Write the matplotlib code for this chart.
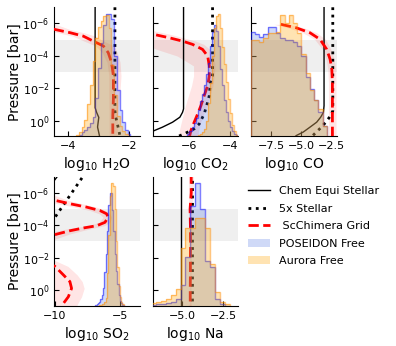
import numpy as np
import matplotlib
matplotlib.use('Agg')
import matplotlib.pyplot as plt
from matplotlib.lines import Line2D
from matplotlib.patches import Patch
from matplotlib.ticker import NullLocator

# ---------------- data ----------------
species = ['H2O', 'CO2', 'CO', 'SO2', 'Na']
xlabels = [r'$\log_{10}\,\mathrm{H_2O}$', r'$\log_{10}\,\mathrm{CO_2}$', r'$\log_{10}\,\mathrm{CO}$',
           r'$\log_{10}\,\mathrm{SO_2}$', r'$\log_{10}\,\mathrm{Na}$']
xlims = [(-4.46, -1.65), (-7.80, -3.61), (-9.14, -2.08), (-10.05, -3.46), (-6.79, -1.59)]
xticks = [[-4, -2], [-6, -4], [-7.5, -5.0, -2.5], [-10, -5], [-5.0, -2.5]]

# chemical equilibrium (stellar) profiles: log10 P, log10 X
chem_H2O_logP = [-7, -0.8, -0.5, -0.2, 0.1, 0.4, 1.0]
chem_H2O_x = [-3.12, -3.12, -3.07, -3.0, -3.02, -3.04, -2.97]
chem_CO2_logP = [-7, -0.72, -0.51, -0.21, 0.1, 0.41, 0.62, 1.0]
chem_CO2_x = [-6.29, -6.29, -6.34, -6.47, -6.83, -7.33, -7.73, -8.4]
chem_CO_logP = [-7, -0.92, -0.51, -0.21, 0.10, 0.41, 0.71, 0.92, 1.1]
chem_CO_x = [-3.14, -3.14, -3.19, -3.42, -3.75, -4.31, -4.86, -5.42, -5.7]
chem_SO2_logP = [-7.3, -6.6]
chem_SO2_x = [-9.55, -10.2]
chem_Na_logP = [-7.2, 1.2]
chem_Na_x = [-5.1, -5.1]

# 5x stellar profiles
x5_H2O_logP = [-7, -0.6, -0.2, 0.2, 0.6, 1.0]
x5_H2O_x = [-2.47, -2.47, -2.44, -2.39, -2.34, -2.30]
x5_CO2_logP = [-7, -2.8, -2.36, -1.54, -0.92, -0.41, 0.2, 0.51, 0.82, 1.0]
x5_CO2_x = [-4.87, -4.87, -4.98, -5.03, -5.16, -5.28, -5.52, -5.77, -6.26, -6.6]
x5_CO_logP = [-7, -0.6, -0.3, 0.1, 0.4, 0.8, 1.1]
x5_CO_x = [-2.42, -2.42, -2.6, -3.0, -3.35, -3.9, -4.3]
x5_SO2_logP = [-7.3, -6.0, -4.5, -4.2]
x5_SO2_x = [-7.6, -8.71, -9.99, -10.25]
x5_Na_logP = [-7.2, 1.2]
x5_Na_x = [-4.4, -4.4]

# ScChimera grid: median and 1-sigma envelope
grid_H2O_logP = [-6.2, -5.63, -5.43, -5.22, -4.91, -4.61, -4.2, -3.59, -2.76, -1.33, -0.31, 1.1]
grid_H2O_mean = [-5.4, -4.44, -3.94, -3.51, -3.18, -2.85, -2.69, -2.58, -2.52, -2.52, -2.54, -2.54]
grid_H2O_lo = [-6.0, -4.94, -4.34, -3.86, -3.48, -3.10, -2.89, -2.73, -2.67, -2.67, -2.66, -2.66]
grid_H2O_hi = [-4.8, -3.94, -3.49, -3.11, -2.83, -2.50, -2.39, -2.30, -2.27, -2.32, -2.39, -2.39]

grid_CO2_logP = [-6.5, -5.55, -5.32, -5.12, -4.91, -4.71, -4.40, -3.99, -3.38, -2.76, -2.15, -1.54,
                 -0.92, -0.41, 0.10, 0.62, 1.1]
grid_CO2_mean = [-9.5, -8.6, -7.73, -7.0, -6.34, -5.85, -5.36, -5.11, -5.03, -5.03, -5.11, -5.28,
                 -5.44, -5.6, -5.77, -5.93, -6.02]
grid_CO2_lo = [-11.0, -10.5, -10.0, -9.5, -8.8, -8.2, -7.6, -6.6, -5.8, -5.8, -5.9, -6.05,
               -6.2, -6.3, -6.4, -6.5, -6.55]
grid_CO2_hi = [-8.6, -7.75, -6.9, -6.3, -5.7, -5.3, -5.0, -4.8, -4.75, -4.78, -4.85, -5.0,
               -5.15, -5.3, -5.45, -5.55, -5.6]

grid_CO_logP = [-5.95, -5.73, -5.43, -5.02, -4.40, -3.79, -3.17, -2.36, -1.0, 1.1]
grid_CO_mean = [-6.7, -5.42, -4.31, -3.47, -2.92, -2.64, -2.5, -2.45, -2.45, -2.45]
grid_CO_lo = [-7.3, -6.1, -4.9, -3.92, -3.27, -2.97, -2.83, -2.78, -2.78, -2.78]
grid_CO_hi = [-6.1, -4.8, -3.75, -3.02, -2.57, -2.31, -2.17, -2.15, -2.15, -2.15]

grid_SO2_logP = [-7.0, -6.0, -5.54, -5.33, -5.12, -4.91, -4.71, -4.5, -4.18, -3.97, -3.83, -3.66,
                 -3.45, -3.0, -2.0, -1.46, -0.94, -0.52, -0.1, 0.42, 0.84, 1.15]
grid_SO2_mean = [-14, -11.5, -10.0, -8.85, -7.56, -6.54, -6.03, -5.9, -6.15, -6.79, -7.82, -8.85,
                 -9.87, -11.5, -11.5, -10.0, -9.36, -8.85, -8.72, -8.97, -9.36, -9.49]
grid_SO2_lo = [-14.5, -12.5, -11.0, -9.8, -8.5, -7.3, -6.6, -6.3, -6.6, -7.5, -8.7, -9.8,
               -10.8, -12, -12.5, -11.5, -10.6, -10.2, -10.1, -10.3, -10.6, -10.7]
grid_SO2_hi = [-13, -10.5, -9.0, -7.9, -6.8, -6.1, -5.75, -5.64, -5.75, -6.2, -7.0, -7.9,
               -8.9, -10.5, -10.5, -9.0, -8.3, -7.9, -7.75, -7.95, -8.25, -8.4]

grid_Na_logP = [-7.2, -6, -5, -4, -3, -2, -1, 0, 1.2]
grid_Na_mean = [-4.45, -4.45, -4.52, -4.5, -4.49, -4.5, -4.5, -4.51, -4.51]
grid_Na_lo = [-4.62, -4.6, -4.6, -4.56, -4.55, -4.55, -4.55, -4.56, -4.56]
grid_Na_hi = [-4.3, -4.33, -4.42, -4.44, -4.44, -4.45, -4.45, -4.46, -4.46]

# retrieved posterior histograms (bin edges, normalised heights)
bins_H2O = np.linspace(-3.74, -1.96, 21)
pos_H2O = [0.005, 0.01, 0.03, 0.045, 0.07, 0.10, 0.15, 0.30, 0.53, 0.72, 0.86, 0.95, 0.95, 0.91,
           0.62, 0.36, 0.20, 0.11, 0.05, 0.015]
aur_H2O = [0.01, 0.03, 0.07, 0.13, 0.25, 0.40, 0.58, 0.76, 0.85, 0.89, 0.93, 0.94, 0.84, 0.55,
           0.32, 0.16, 0.08, 0.04, 0.015, 0.0]

bins_CO2 = np.linspace(-6.1, -3.6, 26)
pos_CO2 = [0.02, 0.04, 0.07, 0.10, 0.14, 0.20, 0.27, 0.33, 0.40, 0.48, 0.57, 0.70, 0.81, 0.86,
           0.82, 0.70, 0.52, 0.40, 0.28, 0.19, 0.12, 0.07, 0.04, 0.02, 0.01]
aur_CO2 = [0.0, 0.0, 0.0, 0.003, 0.005, 0.01, 0.015, 0.03, 0.06, 0.12, 0.26, 0.41, 0.62, 0.84,
           0.93, 0.95, 0.84, 0.69, 0.56, 0.42, 0.29, 0.18, 0.09, 0.04, 0.01]

bins_CO = np.linspace(-9.2, -2.9, 19)
pos_CO = [0.81, 0.79, 0.77, 0.79, 0.85, 0.85, 0.80, 0.76, 0.75, 0.75, 0.73, 0.70, 0.62, 0.46,
          0.37, 0.28, 0.19, 0.08]
aur_CO = [0.75, 0.75, 0.73, 0.76, 0.80, 0.80, 0.81, 0.94, 0.88, 0.94, 0.88, 0.80, 0.64, 0.49,
          0.36, 0.28, 0.21, 0.08]

bins_SO2 = np.linspace(-6.9, -4.7, 23)
pos_SO2 = [0.005, 0.01, 0.02, 0.03, 0.05, 0.08, 0.14, 0.26, 0.40, 0.58, 0.78, 0.87, 0.87, 0.74,
           0.58, 0.40, 0.27, 0.17, 0.08, 0.04, 0.02, 0.005]
aur_SO2 = [0.0, 0.0, 0.0, 0.003, 0.005, 0.01, 0.015, 0.03, 0.06, 0.25, 0.55, 0.85, 0.95, 0.95,
           0.93, 0.75, 0.50, 0.30, 0.15, 0.07, 0.03, 0.01]

bins_Na = np.linspace(-6.9, -2.1, 17)
pos_Na = [0.008, 0.01, 0.015, 0.02, 0.03, 0.05, 0.16, 0.38, 0.77, 0.95, 0.75, 0.35, 0.30, 0.05,
          0.013, 0.0]
aur_Na = [0.02, 0.03, 0.04, 0.05, 0.08, 0.13, 0.45, 0.60, 0.60, 0.68, 0.68, 0.60, 0.32, 0.11,
          0.03, 0.013]

panels = [
    (chem_H2O_logP, chem_H2O_x, x5_H2O_logP, x5_H2O_x, grid_H2O_logP, grid_H2O_mean, grid_H2O_lo, grid_H2O_hi, bins_H2O, pos_H2O, aur_H2O),
    (chem_CO2_logP, chem_CO2_x, x5_CO2_logP, x5_CO2_x, grid_CO2_logP, grid_CO2_mean, grid_CO2_lo, grid_CO2_hi, bins_CO2, pos_CO2, aur_CO2),
    (chem_CO_logP, chem_CO_x, x5_CO_logP, x5_CO_x, grid_CO_logP, grid_CO_mean, grid_CO_lo, grid_CO_hi, bins_CO, pos_CO, aur_CO),
    (chem_SO2_logP, chem_SO2_x, x5_SO2_logP, x5_SO2_x, grid_SO2_logP, grid_SO2_mean, grid_SO2_lo, grid_SO2_hi, bins_SO2, pos_SO2, aur_SO2),
    (chem_Na_logP, chem_Na_x, x5_Na_logP, x5_Na_x, grid_Na_logP, grid_Na_mean, grid_Na_lo, grid_Na_hi, bins_Na, pos_Na, aur_Na),
]

# ---------------- figure ----------------
FW, FH = 396, 346
fig = plt.figure(figsize=(FW / 100, FH / 100), dpi=100)
col_left = [54.3, 152.7, 251.3]
row_top = [7.3, 176.7]
aw, ah = 85.6, 129.0

for i, p in enumerate(panels):
    r, c = divmod(i, 3)
    ax = fig.add_axes([col_left[c] / FW, 1 - (row_top[r] + ah) / FH, aw / FW, ah / FH])
    (cl, cx, fl, fx, gl, gm, glo, ghi, be, hp, ha) = p
    ax.set_yscale('log')
    ax.axhspan(1e-5, 1e-3, color='gray', alpha=0.12, lw=0, zorder=0)
    P = 10 ** np.array(gl)
    ax.fill_betweenx(P, glo, ghi, color='red', alpha=0.1, lw=0, zorder=1)
    ax.plot(cx, 10 ** np.array(cl), color='black', lw=1.0, zorder=2)
    ax.plot(fx, 10 ** np.array(fl), color='black', ls=':', lw=2.0, zorder=2)
    ax.plot(gm, P, color='red', ls='--', lw=2.0, zorder=3)
    ax.set_xlim(*xlims[i])
    ax.set_ylim(10 ** 0.97, 1e-7)
    ax.set_yticks([1e-6, 1e-4, 1e-2, 1e0])
    ax.yaxis.set_minor_locator(NullLocator())
    ax.set_xticks(xticks[i])
    ax.tick_params(direction='in', length=3.5, labelsize=8)
    if c != 0:
        ax.tick_params(labelleft=False)
    else:
        ax.set_ylabel('Pressure [bar]', fontsize=10, labelpad=0.5)
    ax.set_xlabel(xlabels[i], fontsize=10, labelpad=3)
    for s in ['top', 'right']:
        ax.spines[s].set_visible(False)

    hax = ax.twinx()
    hax.set_ylim(0, 1)
    hax.set_axis_off()
    hax.stairs(hp, be, fill=True, color='royalblue', alpha=0.25, lw=0)
    hax.stairs(hp, be, color='blue', alpha=0.5, lw=1.0)
    hax.stairs(ha, be, fill=True, color='orange', alpha=0.3, lw=0)
    hax.stairs(ha, be, color='darkorange', alpha=0.5, lw=1.0)

handles = [
    Line2D([], [], color='black', lw=1.0, label='Chem Equi Stellar'),
    Line2D([], [], color='black', ls=':', lw=2.0, label='5x Stellar'),
    Line2D([], [], color='red', ls='--', lw=2.0, label=' ScChimera Grid'),
    Patch(facecolor='royalblue', alpha=0.25, lw=0, label='POSEIDON Free'),
    Patch(facecolor='orange', alpha=0.3, lw=0, label='Aurora Free'),
]
fig.legend(handles=handles, loc='upper left', bbox_to_anchor=(248 / FW, 1 - 186 / FH),
           frameon=False, fontsize=8, borderpad=0, borderaxespad=0, handlelength=2,
           labelspacing=0.68)

fig.savefig('out.png', dpi=100)
